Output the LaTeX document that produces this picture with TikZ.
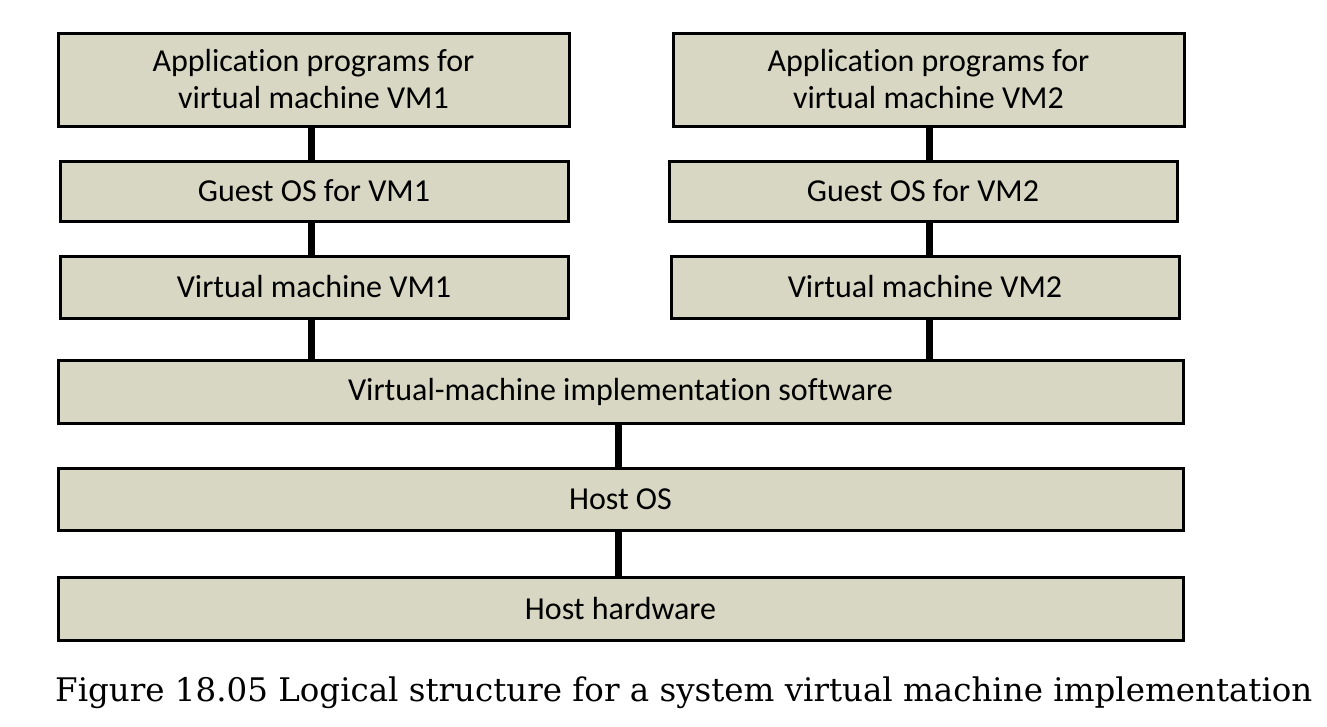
\documentclass[tikz,border=0pt]{standalone}
\usepackage{fontspec}
\setmainfont{DejaVu Serif}
\newfontfamily\boxfont[Ligatures={NoCommon}]{Carlito}
\definecolor{boxfill}{RGB}{216,215,195}
\begin{document}
\begin{tikzpicture}[x=1pt,y=-1pt,
  layer/.style={draw=black,line width=3pt,fill=boxfill,inner sep=0pt,align=center,
    font=\boxfont\fontsize{32}{37}\selectfont},
  link/.style={line width=7pt,draw=black}]
\useasboundingbox (0,0) rectangle (1327,726);
\fill[white] (0,0) rectangle (1327,726);
\newcommand\layerbox[6]{\node[layer,minimum width=#4-#2,minimum height=#5-#3] (#1) at ({(#2+#4)/2},{(#3+#5)/2}) {#6};}
\layerbox{app1}{58}{33}{569}{126}{Application programs for\\virtual machine VM1}
\layerbox{guest1}{60}{161}{568}{221}{Guest OS for VM1}
\layerbox{vm1}{60}{256}{568}{318}{Virtual machine VM1}
\layerbox{app2}{673}{33}{1184}{126}{Application programs for\\virtual machine VM2}
\layerbox{guest2}{669}{161}{1177}{221}{Guest OS for VM2}
\layerbox{vm2}{671}{256}{1179}{318}{Virtual machine VM2}
\layerbox{vmis}{58}{360}{1183}{423}{Virtual-machine implementation software}
\layerbox{hostos}{58}{468}{1183}{530}{Host OS}
\layerbox{hw}{58}{577}{1183}{640}{Host hardware}
\draw[link] (app1.south -| 311,0) -- (guest1.north -| 311,0);
\draw[link] (guest1.south -| 311,0) -- (vm1.north -| 311,0);
\draw[link] (vm1.south -| 311,0) -- (vmis.north -| 311,0);
\draw[link] (app2.south -| 929,0) -- (guest2.north -| 929,0);
\draw[link] (guest2.south -| 929,0) -- (vm2.north -| 929,0);
\draw[link] (vm2.south -| 929,0) -- (vmis.north -| 929,0);
\draw[link] (vmis.south -| 618,0) -- (hostos.north -| 618,0);
\draw[link] (hostos.south -| 618,0) -- (hw.north -| 618,0);
\node[anchor=base west,inner sep=0pt,font=\fontsize{32.5}{38}\selectfont] (cap) at (55,701) {Figure 18.05 Logical structure for a system virtual machine implementation};
\end{tikzpicture}
\end{document}
